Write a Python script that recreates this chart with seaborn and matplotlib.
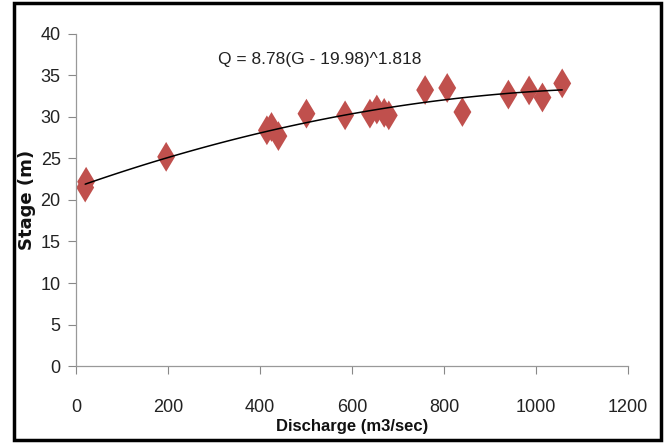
import numpy as np
import pandas as pd
import matplotlib
matplotlib.use("Agg")
import matplotlib.pyplot as plt
import seaborn as sns
from matplotlib.patches import Rectangle

# Data
discharge = [22, 20, 196, 415, 425, 440, 501, 585, 639, 654, 670, 680,
             759, 807, 840, 940, 985, 1014, 1057]
stage = [22.2, 21.5, 25.2, 28.4, 28.8, 27.7, 30.4, 30.2, 30.4, 30.9, 30.5, 30.2,
         33.25, 33.5, 30.6, 32.7, 33.2, 32.35, 34.05]
x_ticks = [0, 200, 400, 600, 800, 1000, 1200]
y_ticks = [0, 5, 10, 15, 20, 25, 30, 35, 40]
equation = "Q = 8.78(G - 19.98)^1.818"

sns.set_theme(style="white")
narrow = ['Liberation Sans Narrow', 'Liberation Sans', 'DejaVu Sans']
plt.rcParams['font.family'] = narrow

df = pd.DataFrame({"Discharge": discharge, "Stage": stage})

# trend line fitted from the data (2nd order, like the spreadsheet trendline)
coef = np.polyfit(df["Discharge"], df["Stage"], 2)
xs = np.linspace(min(discharge), max(discharge), 100)
trend = pd.DataFrame({"Discharge": xs, "Stage": np.polyval(coef, xs)})

fig = plt.figure(figsize=(6.71, 4.44), dpi=100)
ax = fig.add_axes([76/671, 1-366/444, (628-76)/671, (366-34)/444])

sns.lineplot(data=trend, x="Discharge", y="Stage", ax=ax, color="black", lw=1.1, zorder=3)
sns.scatterplot(data=df, x="Discharge", y="Stage", ax=ax, marker="d", s=230,
                color="#C0504D", edgecolor="none", zorder=2)

ax.set_xlim(0, 1200)
ax.set_ylim(0, 40)
ax.set_xticks(x_ticks)
ax.set_yticks(y_ticks)
ax.tick_params(axis="both", which="both", direction="out", length=6, width=0.8,
               color="#888888", labelsize=13, labelcolor="#222222", pad=5)
ax.tick_params(axis="x", pad=18, bottom=True)
ax.tick_params(axis="y", left=True)
for s in ["top", "right"]:
    ax.spines[s].set_visible(False)
for s in ["left", "bottom"]:
    ax.spines[s].set_color("#999999")
    ax.spines[s].set_linewidth(0.9)

ax.set_xlabel("")
ax.set_ylabel("Stage (m)", fontsize=13, fontweight="bold", family=['DejaVu Sans'],
              labelpad=3, color="#111111")
fig.text(352/671, 1-426/444, "Discharge (m3/sec)", fontsize=12, fontweight="bold",
         ha="center", va="center", color="#111111")
ax.text(530, 36.9, equation, fontsize=12.5, ha="center", va="center", color="#222222")

fig.patches.append(Rectangle((14/671, 1-440/444), (661-14)/671, (440-3)/444,
                             transform=fig.transFigure, fill=False,
                             edgecolor="black", linewidth=2.5))

fig.savefig("out.png", dpi=100)
